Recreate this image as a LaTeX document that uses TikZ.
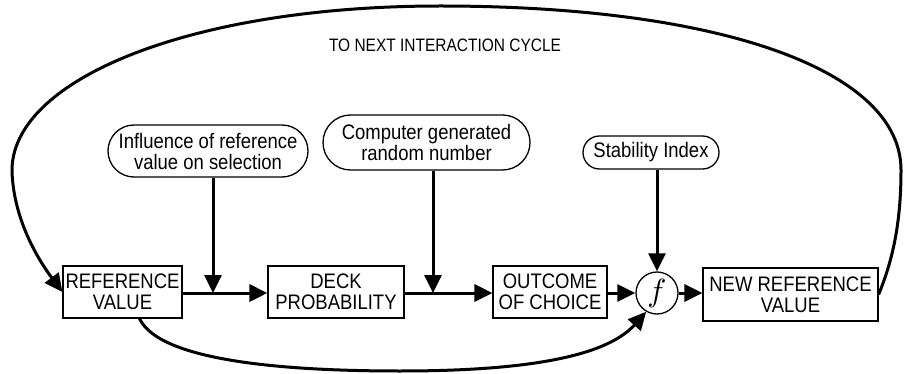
\documentclass[tikz,border=0pt]{standalone}
\usepackage{fontspec}
\setmainfont{Liberation Sans}[FakeStretch=0.88]
\newfontfamily\titlefont{Liberation Sans}[FakeStretch=0.86]
\usetikzlibrary{arrows.meta,shapes.misc}
\begin{document}
\begin{tikzpicture}[x=1pt,y=-1pt,
  txt/.style={font=\fontsize{21}{21}\selectfont, align=center, inner sep=0pt},
  blockbox/.style={txt, draw, line width=1.2pt, minimum height=52pt},
  oval/.style={txt, draw, line width=1.3pt, rounded rectangle, minimum height=#1},
  oval/.default=52pt,
  arr/.style={line width=3pt, -{Triangle[length=18pt,width=17pt]}},
  curvearr/.style={line width=3pt, -{Triangle[length=18pt,width=17pt]}},
]
\useasboundingbox (0,0) rectangle (904,374);

% main blocks
\node[blockbox, minimum width=119pt] (ref) at (122.5,292) {REFERENCE\\VALUE};
\node[blockbox, minimum width=136pt] (deck) at (336,292) {DECK\\PROBABILITY};
\node[blockbox, minimum width=114pt] (outcome) at (550,292) {OUTCOME\\OF CHOICE};
\node[draw, circle, line width=1.3pt, minimum size=42pt, inner sep=0pt] (f) at (657,293) {\scalebox{3.2}{$f$}};
\node[blockbox, minimum width=175pt, minimum height=53pt] (newref) at (790.5,294.5) {NEW REFERENCE\\VALUE};

% input ovals
\node[oval, minimum width=200pt] (infl) at (208,151) {Influence of reference\\value on selection};
\node[oval=55pt, minimum width=207pt] (comp) at (426.5,142.5) {Computer generated\\random number};
\node[oval=33pt, minimum width=136pt] (stab) at (651,152.5) {Stability Index};

% title
\node[font=\titlefont\fontsize{18}{20}\selectfont, inner sep=0pt] (title) at (445,45) {TO NEXT INTERACTION CYCLE};

% junctions on main line
\coordinate (j1) at (213,293);
\coordinate (j2) at (433,293);

% main flow
\draw[arr] (ref.east |- j1) -- (deck.west |- j1);
\draw[arr] (deck.east |- j2) -- (outcome.west |- j2);
\draw[arr] (outcome.east |- f) -- (f.west);
\draw[arr] (f.east) -- (newref.west |- f);

% inputs
\draw[arr] (infl.south -| j1) -- (j1);
\draw[arr] (comp.south -| j2) -- (j2);
\draw[arr] (stab.south -| f) -- (f.north);

% feedback to next cycle
\draw[curvearr] (newref.east) .. controls (892,262) and (901,225) .. (901,170)
   .. controls (901,70) and (720,6) .. (440,6)
   .. controls (190,6) and (10,80) .. (12,172)
   .. controls (14,222) and (40,262) .. (ref.west);

% bottom curve
\draw[curvearr] ([xshift=17pt]ref.south) .. controls (160,362) and (290,371) .. (400,371)
   .. controls (520,371) and (605,358) .. (f.240);
\end{tikzpicture}
\end{document}
